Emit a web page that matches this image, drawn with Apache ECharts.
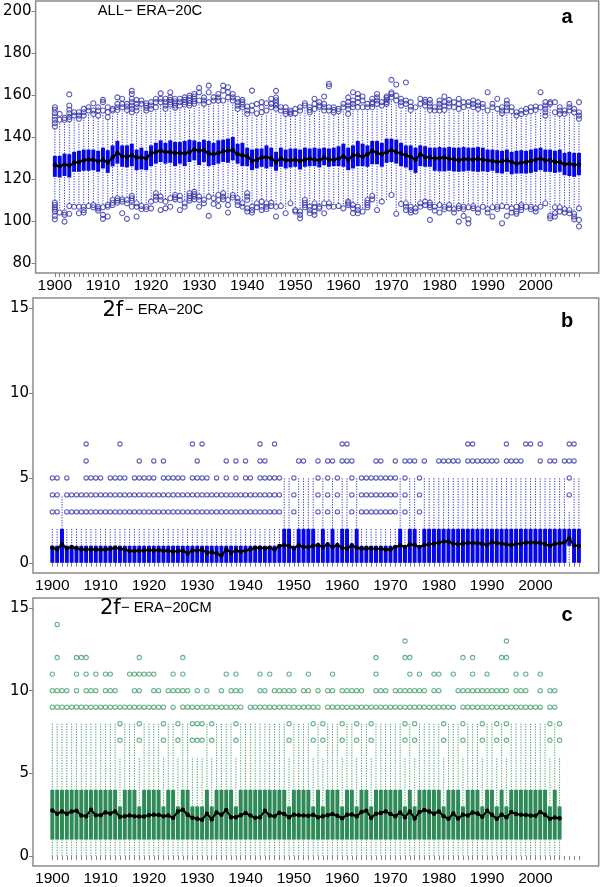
<!DOCTYPE html>
<html><head><meta charset="utf-8">
<script src="https://cdn.jsdelivr.net/npm/echarts@6/dist/echarts.min.js"></script>
<style>html,body{margin:0;padding:0;background:#fff}#c{width:600px;height:887px}</style>
</head><body><div id="c"></div>
<script>
// ---------- axis labels ----------
const xLabelYears = [1900,1910,1920,1930,1940,1950,1960,1970,1980,1990,2000];
const yTicksA = [80,100,120,140,160,180,200];
const yTicksBC = [0,5,10,15];
const yearsAB = []; for (let y = 1900; y <= 2009; y++) yearsAB.push(y);
const yearsC = []; for (let y = 1900; y <= 2005; y++) yearsC.push(y);

// ---------- panel a: ALL- ERA-20C ----------
const aLo = [110,106,105.5,108.5,108.5,108.5,108.5,108.5,109,108.5, 108,109,111.5,112,112,111.5,113,110,108.5,108.5, 110.5,114.5,113,110.5,112,113.5,113,110,114.5,115, 113,111.5,113,112,114,114.5,111.5,113.5,112,110, 114.5,108,110,110.5,110,110,108,108.5,105.5,110, 106.5,106,111.5,108,110,108,110,110,108.5,108.5, 108,110.5,109,108.5,106,111.5,113.5,107,110.5,110, 114,105,109.5,110,108.5,107.5,110,110.5,110,108.5, 109,108.5,109,107,108.5,108.5,108,108.5,107,108.5, 107,108,108.5,108.5,108.5,107.5,108.5,109,108.5,108.5, 107.5,108.5,110,104,108,108,107,107,105,107.5];
const aQ1 = [121.0,120.7,121.4,120.7,123.4,123.4,123.9,123.9,124.2,123.4, 125.0,122.9,126.0,127.3,125.8,125.5,126.1,124.2,124.5,124.2, 126.1,127.3,128.1,127.3,127.7,126.1,127.3,126.1,128.1,128.9, 126.6,128.1,126.1,126.6,127.3,128.1,127.7,128.9,127.3,126.1, 126.1,124.2,125.0,125.8,125.0,125.8,123.9,125.8,125.0,125.5, 125.8,124.5,125.8,126.1,126.1,125.5,126.6,125.8,126.1,126.1, 125.8,124.2,125.0,126.1,126.1,125.8,127.0,127.0,125.8,127.7, 128.1,127.3,126.1,125.5,124.2,122.9,126.1,125.8,125.8,123.9, 123.6,123.6,123.9,123.6,123.4,123.6,123.9,123.6,123.4,123.6, 123.4,123.9,122.9,122.6,123.4,122.2,122.6,122.6,122.6,122.9, 123.4,124.2,123.4,123.4,122.9,123.4,121.8,121.4,121.0,121.8];
const aQ3 = [131.0,131.0,132.1,131.8,132.9,133.4,134.0,134.0,134.0,133.4, 134.9,133.7,136.0,138.1,136.0,136.0,136.8,134.0,134.9,133.4, 136.0,137.2,138.4,137.2,138.4,137.6,137.6,138.1,138.7,138.4, 137.6,138.7,138.1,137.2,138.4,138.7,139.2,140.0,136.8,137.2, 134.9,134.0,134.5,134.5,136.0,134.9,132.9,134.9,134.0,134.5, 134.5,134.0,134.9,134.5,134.9,134.5,134.9,134.5,134.9,135.6, 136.8,134.9,136.0,138.1,136.8,136.0,138.1,138.1,137.2,139.2, 139.2,138.7,137.2,136.0,136.0,134.9,136.0,135.6,134.9,134.9, 135.2,134.9,135.2,134.9,134.9,135.2,134.9,134.9,135.2,134.9, 134.0,134.0,133.7,133.4,134.0,132.9,133.4,133.7,133.4,134.0, 134.5,134.9,134.0,134.0,133.4,134.0,132.4,132.9,132.4,132.4];
const aHi = [144,147,147,147,149,147,149,151,149.5,149, 151,148,151,151.5,152.5,151.5,150.5,151,154,151, 152,152.5,155,152,154,152.5,153.5,154,153.5,154.5, 155.5,154.5,155,156,156,156,157.5,156,152,152.5, 149.5,151,150,150.5,151,152.5,152,151,149.5,149.5, 150,151,153.5,150.5,152,152.5,151,151,150.5,151, 152.5,149.5,152.5,152.5,152.5,152.5,152.5,154.5,153.5,154.5, 157.5,156,153.5,154,151.5,152.5,154,153.5,151.5,151, 151,151.5,153,152.5,152,152.5,153.5,152.5,152,152.5, 151,152.5,152,150,151,151,149,149.5,150.5,151, 151.5,152.5,149,154.5,150.5,149.5,149.5,151,150.5,147.5];
const aMean = [126.6,126.1,126.9,126.4,127.7,128.1,128.9,129.2,129.2,128.4, 129.2,127.8,130.2,132.4,131.0,130.5,131.3,130.2,130.2,129.9, 132.1,132.9,133.4,132.9,132.9,132.4,132.4,132.1,132.9,134.0, 133.4,133.7,132.1,131.8,132.4,133.2,133.4,133.7,131.8,131.3, 130.8,128.6,129.2,130.2,130.5,129.7,128.1,129.7,128.9,128.9, 129.2,128.6,129.2,129.7,129.2,128.9,130.2,129.2,129.2,129.7, 130.8,129.2,131.3,131.3,130.5,131.8,133.4,132.4,131.8,132.9, 133.7,132.9,132.1,131.3,130.5,129.2,131.8,130.5,130.2,129.7, 130.0,130.2,129.7,129.4,128.9,129.4,129.4,129.2,129.6,129.2, 128.9,128.6,128.1,128.4,128.9,128.1,127.3,127.7,128.1,128.6, 129.2,129.7,128.9,128.9,128.1,128.1,127.0,127.3,126.6,127.0];
const aUp = [
[154.2,153.0,151.4,149.8,148.2,146.6,145.0],[151.0,148.2],[149.1,148.2],[160.3,155.0,153.0,151.3,149.6,148.4],[151.8,150.2],
[151.8,150.2,148.7],[153.4,151.8,150.2],[154.2,152.6],[156.1,152.6,151.0],[154.2,152.6,150.2],
[157.7,156.6,152.6],[154.2,151.8,149.5],[153.4,152.6],[158.9,155.8,154.2,152.9],[158.2,155.8,154.2],
[155.8,154.5,152.9],[162.0,160.5,158.2,156.6,155.0,153.4,151.8],[157.7,155.8,154.2,152.6],[157.4,155.8],[156.1,155.0,153.9,152.6],
[156.6,155.0,153.4],[158.2,156.6,154.2],[160.8,158.2,156.6],[158.2,156.6,155.0,153.4],[161.3,158.9,157.7,156.6,155.5],
[158.2,157.0,156.1,155.0,153.9],[158.2,156.6,155.0],[158.9,157.7,156.6,155.5],[159.7,158.6,157.4,156.1,155.0],[160.5,159.3,158.2,157.0,155.8],
[163.4,161.3,157.4],[158.9,157.4,155.8],[164.5,161.3,156.6],[158.9,157.4],[160.5,158.9,157.4],
[164.5,162.1,157.4],[163.7,161.3,158.9],[160.5,158.9,157.4],[158.2,156.6,155.0,153.4],[157.7,156.6,155.5,154.2],
[154.5,152.6,151.0],[162.1,155.0,152.6],[155.8,151.3],[156.6,154.2,151.8],[156.1,152.6],
[158.2,155.8,154.2],[162.0,158.8,157.5,156.2,155.0,153.5],[154.2,152.6],[154.2,152.3,151.0],[152.6,151.8,151.0],
[153.4,151.3],[154.2,152.6],[156.1,155.0],[154.2,152.9,151.8],[158.2,155.8,153.4],
[156.6,155.0,154.2],[159.3,155.8,154.2,152.6],[165.3,164.2,154.2,152.6],[154.2,152.9,151.8],[153.4,152.3],
[155.8,154.2],[158.9,156.6,155.0,153.4,151.0],[161.3,157.4,155.8,154.2],[160.5,158.6,156.6,154.2],[159.3,157.4,154.2],
[155.8,154.2],[158.2,156.6,155.8,154.2],[160.5,158.9,157.4,155.8],[156.6,155.0],[159.3,158.6,157.7,156.6,155.8],
[167.2,161.3,160.5,158.9],[165.0,159.7,157.4],[158.2,156.6,155.0],[166.0,157.4,155.8],[156.6,154.5,152.9],
[154.2],[158.2,155.8],[157.7,156.6,155.0],[157.7,156.1,154.5,152.9],[154.2,152.6],
[157.4,155.8,154.2,152.6],[159.3,156.6,155.0,152.9],[157.7,156.1,154.5],[156.6,154.2],[158.2,155.8,153.4],
[156.6,154.2],[156.6,155.0],[157.4,155.8,154.2],[156.6,155.0,153.4],[155.8,154.2],
[161.3,152.6],[155.8,154.2],[158.2,153.4],[154.2,152.6,151.3],[157.4,155.8,154.2,152.6],
[154.2,152.3],[151.8,150.2],[152.6,151.0],[153.4,151.8],[154.2,152.3],
[154.5,152.9],[161.3,154.2],[156.6,155.0,153.4,151.8,150.2],[156.6,155.8],[156.6,151.8],
[154.2,152.6,151.0],[152.6,151.0],[155.8,154.2,152.6],[153.4,151.8],[156.6,151.8,150.2,148.7]
];
const aDn = [
[108.7,107.6,106.5,105.6,104.5,102.4,100.8],[104.0],[104.0,102.9,99.7],[107.1,103.4],[106.8],
[106.8,103.7],[106.8,105.2,104.0],[107.1],[107.6,106.5],[106.8,105.9,104.9],
[106.5,102.9,101.0],[107.6,106.8,102.1],[110.0,108.7,107.6],[110.8,109.7,108.7],[110.3,109.2,103.7],
[110.0,108.4,101.0],[111.9,110.8,109.7,106.8],[108.4,106.8,102.1],[107.1,105.6],[106.8,105.6],
[109.2,106.0],[113.2,111.6,110.0],[111.6,110.0,105.2],[109.2,106.0],[110.8,106.8],
[112.4,111.3,110.3],[111.9,110.0,105.2],[108.4,106.8],[113.2,111.9,110.8,109.7],[113.9,112.8,111.6,110.3],
[111.6,110.0,106.8],[110.0,108.4],[111.6,102.4],[110.8,108.1],[112.4,110.0,107.1],
[113.2,111.6,110.3],[110.0,107.6,104.0],[112.4,111.2],[110.8,109.2,107.6],[108.4,106.8],
[113.2,111.6,110.0,106.0,104.5],[106.8,105.2,104.0],[108.4,106.5],[109.2,106.8,105.2],[108.4,106.8,105.6],
[108.7,107.1],[106.8,102.1],[107.1],[103.7],[108.4],
[105.2,104.5],[104.5,102.9,101.3],[110.0,108.7,107.6,106.5],[106.8,105.2,103.7],[108.4,106.8,104.5,102.9],
[106.8,106.0],[108.4,103.7],[108.4,106.8],[106.8],[107.1],
[106.0],[109.2,108.4,107.6],[107.6,106.0,103.7],[106.8,105.2,103.7],[104.5],
[110.0,108.7,107.6,106.5],[111.9,110.3],[105.2],[109.2],[],
[112.4],[103.4],[108.1],[108.4,106.8,105.2],[106.8,105.2,104.0],
[106.0,104.5],[108.4,106.8],[109.2,107.6],[108.7,107.6,106.5,100.5],[106.8,104.9],
[107.6,104.0],[106.8,105.6],[107.6,106.0],[105.6,104.0],[107.1,106.0,99.7],
[106.8,105.6,102.4],[106.5,100.8,98.9],[107.1,106.0],[105.6,104.0],[106.8],
[105.6,104.0],[106.5,102.1],[106.8,105.6],[107.1,98.9],[106.8,102.4],
[106.0,104.0],[106.8,104.5,103.4],[107.6,106.5,105.2],[106.8],[106.8,105.6],
[106.0,104.5],[106.8],[108.4],[102.4,101.3],[106.5,103.7,102.1],
[106.5,104.5],[105.6,104.0],[105.2,103.7],[103.4,102.1,100.8],[106.0,100.5,97.4]
];

// ---------- panel b: 2f- ERA-20C ----------
const bLo = [0,0,0,0,0,0,0,0,0,0, 0,0,0,0,0,0,0,0,0,0, 0,0,0,0,0,0,0,0,0,0, 0,0,0,0,0,0,0,0,0,0, 0,0,0,0,0,0,0,0,0,0, 0,0,0,0,0,0,0,0,0,0, 0,0,0,0,0,0,0,0,0,0, 0,0,0,0,0,0,0,0,0,0, 0,0,0,0,0,0,0,0,0,0, 0,0,0,0,0,0,0,0,0,0, 0,0,0,0,0,0,0,0,0,0];
const bQ1 = [0,0,0,0,0,0,0,0,0,0, 0,0,0,0,0,0,0,0,0,0, 0,0,0,0,0,0,0,0,0,0, 0,0,0,0,0,0,0,0,0,0, 0,0,0,0,0,0,0,0,0,0, 0,0,0,0,0,0,0,0,0,0, 0,0,0,0,0,0,0,0,0,0, 0,0,0,0,0,0,0,0,0,0, 0,0,0,0,0,0,0,0,0,0, 0,0,0,0,0,0,0,0,0,0, 0,0,0,0,0,0,0,1,0,0];
const bQ3 = [1,1,2,1,1,1,1,1,1,1, 1,1,1,1,1,1,1,1,1,1, 1,1,1,1,1,1,1,1,1,1, 1,1,1,1,1,1,1,1,1,1, 1,1,1,1,1,1,1,1,2,2, 1,2,2,2,2,1,2,1,2,1, 2,2,1,2,1,1,1,1,1,1, 1,1,2,1,2,2,1,2,2,2, 2,2,2,2,2,2,2,2,2,2, 2,2,2,2,2,2,2,2,2,2, 2,2,2,2,2,2,2,2,2,2];
const bHi = [2,2,4,2,2,2,2,2,2,2, 2,2,2,2,2,2,2,2,2,2, 2,2,2,2,2,2,2,2,2,2, 2,2,2,2,2,2,2,2,2,2, 2,2,2,2,2,2,2,2,5,5, 2,5,5,5,5,2,5,2,5,2, 5,5,2,5,2,2,2,2,2,2, 2,2,5,2,5,5,2,5,5,5, 5,5,5,5,5,5,5,5,5,5, 5,5,5,5,5,5,5,5,5,5, 5,5,5,5,5,5,5,3,5,5];
const bMean = [0.89,0.79,1.09,0.85,0.93,0.85,0.79,0.79,0.79,0.79, 0.77,0.79,0.81,0.89,0.83,0.79,0.69,0.69,0.73,0.73, 0.75,0.73,0.75,0.71,0.73,0.65,0.69,0.73,0.55,0.73, 0.73,0.77,0.59,0.63,0.55,0.43,0.79,0.59,0.73,0.65, 0.73,0.79,0.89,0.89,0.85,0.89,0.79,0.99,1.05,0.99, 0.85,1.03,0.93,0.93,0.99,1.05,0.93,1.09,0.93,1.05, 0.89,0.83,1.03,0.89,0.83,0.85,0.85,0.83,0.83,0.79, 0.79,0.93,1.03,0.93,1.09,1.05,0.93,1.05,1.09,1.13, 1.19,1.25,1.25,1.13,1.09,1.13,1.17,1.17,1.15,1.13, 1.05,1.23,1.17,1.13,1.09,1.03,1.13,1.13,1.19,1.19, 1.19,1.17,1.09,0.99,1.13,1.15,1.19,1.44,1.03,0.99];
const bOut = [
[3,4,5],[3,4,5],[],[3,4,5],[3,4],[3,4],[3,4],[3,4,5,6,7],[3,4,5],[3,4,5],
[3,4,5],[3,4],[3,4,5],[3,4,5],[3,4,5,7],[3,4,5],[3,4],[3,4,5],[3,4,5,6],[3,4,5],
[3,4,5],[3,4,5,6],[3,4],[3,4,5,6],[3,4,5],[3,4,5],[3,4,5],[3,4,5],[3,4],[3,4,5,7],
[3,4,5,6],[3,4,5,7],[3,4,5],[3,4],[3,4,5],[3,4],[3,4,5,6],[3,4],[3,4,5,6],[3,4],
[3,4,5,6],[3,4,5],[3,4],[3,4,5,6,7],[3,4,5,6],[3,4,5],[3,4,5,7],[3,4,5],[],[],
[3,4,5],[6],[6],[],[],[3,4,5,6],[],[3,4,5,6],[6],[3,4,5],
[6,7],[6,7],[3,4,5,6],[],[3,4,5],[3,4,5],[3,4,5],[3,4,5,6],[3,4,5,6],[3,4,5],
[3,4,5],[3,4,5,6],[],[3,4,5,6],[6],[6],[3,4,5],[6],[],[],
[6],[6],[6],[6],[6],[],[6,7],[6,7],[6],[6],
[6],[6],[6],[],[6,7],[6],[6],[6],[7],[7],
[],[6,7],[],[6],[6],[],[6],[4,5,6,7],[6,7],[]
];

// ---------- panel c: 2f- ERA-20CM ----------
const cLo = [0,0,0,0,0,0,0,0,0,0, 0,0,0,0,0,0,0,0,0,0, 0,0,0,0,0,0,0,0,0,0, 0,0,0,0,0,0,0,0,0,0, 0,0,0,0,0,0,0,0,0,0, 0,0,0,0,0,0,0,0,0,0, 0,0,0,0,0,0,0,0,0,0, 0,0,0,0,0,0,0,0,0,0, 0,0,0,0,0,0,0,0,0,0, 0,0,0,0,0,0,0,0,0,0, 0,0,0,0,0,0];
const cQ1 = [1,1,1,1,1,1,1,1,1,1, 1,1,1,1,1,1,1,1,1,1, 1,1,1,1,1,1,1,1,1,1, 1,1,1,1,1,1,1,1,1,1, 1,1,1,1,1,1,1,1,1,1, 1,1,1,1,1,1,1,1,1,1, 1,1,1,1,1,1,1,1,1,1, 1,1,1,1,1,1,1,1,1,1, 1,1,1,1,1,1,1,1,1,1, 1,1,1,1,1,1,1,1,1,1, 1,1,1,1,1,1];
const cQ3 = [4,4,4,4,4,4,4,4,4,4, 4,4,4,4,3,4,4,4,3,4, 4,4,4,3,4,4,3,4,4,3, 3,3,4,3,4,4,4,4,3,4, 4,4,4,4,4,4,4,4,4,3, 4,4,4,4,3,4,3,4,4,4, 3,4,4,3,4,4,3,4,4,4, 4,4,4,3,4,3,4,4,4,4, 4,3,4,4,4,3,4,4,4,3, 4,4,3,4,3,4,4,4,4,4, 4,4,4,3,4,3];
const cHi = [8,8,8,8,8,8,8,8,8,8, 8,8,8,8,6,8,8,8,6,8, 8,8,8,6,8,8,6,8,8,6, 6,6,8,6,8,8,8,8,6,8, 8,8,8,8,8,8,8,8,8,6, 8,8,8,8,6,8,6,8,8,8, 6,8,8,6,8,8,6,8,8,8, 8,8,8,6,8,6,8,8,8,8, 8,6,8,8,8,6,8,8,8,6, 8,8,6,8,6,8,8,8,8,8, 8,8,8,6,8,6];
const cMean = [2.76,2.56,2.70,2.56,2.70,2.74,2.45,2.41,2.80,2.47, 2.47,2.64,2.58,2.70,2.37,2.41,2.45,2.41,2.39,2.39, 2.47,2.50,2.49,2.41,2.45,2.31,2.70,2.80,2.50,2.31, 2.25,2.19,2.56,2.23,2.64,2.50,2.78,2.35,2.35,2.47, 2.60,2.45,2.31,2.35,2.74,2.45,2.41,2.62,2.54,2.35, 2.50,2.47,2.45,2.43,2.50,2.35,2.41,2.47,2.54,2.43, 2.29,2.50,2.52,2.41,2.66,2.74,2.31,2.56,2.60,2.70, 2.54,2.41,2.64,2.35,2.70,2.27,2.66,2.78,2.70,2.56, 2.70,2.41,2.25,2.58,2.27,2.50,2.45,2.64,2.58,2.37, 2.74,2.50,2.25,2.50,2.35,2.66,2.54,2.50,2.49,2.45, 2.43,2.66,2.50,2.25,2.33,2.29];
const cOut = [
[9,10,11],[9,10,12,14],[9,10],[9,10],[9],[9,10,11,12],[9,12],[9,10,11,12],[9,10],[9,10,11],
[9],[9,10,11],[9,10,11],[9,10],[7,8,9],[9],[9,11],[9,10,11],[7,8,9,10,11,12],[9,11],
[9,11],[9,10,11],[9,10],[7,8,9],[10],[9,10,11],[7,8,10],[9,10,11,12],[9,10],[7,8,9],
[7,8,9,10],[7,8,9],[9,10],[7,8,9],[9],[9,10],[9,11],[9,10],[7,8,9,10,11],[9,10],
[],[9],[9],[9,10,11],[9,10],[9,11],[9,10],[9,10],[9,10],[7,8,9,10,11],
[9,10],[9],[9,10],[9,10,11],[7,8,9],[9,10],[7,8],[9,10],[9,10,11],[9],
[7,8,9,10],[9,10],[9,10],[7,8,9,10],[9,10],[9],[7,8,9],[9,10,11,12],[9,10],[9,10],
[9],[9,10],[9,10],[7,8,9,10,12,13],[9,10,11,12],[7,8,9,10],[9,10,11],[9,10],[9],[9,10,11],
[9,10,11],[7,8,9],[9],[9,11],[10],[7,8,9,10,12],[9,10],[9,10,11,12],[9,10],[7,8,9,10],
[9,10,11],[9,10],[7,8,9,10],[9,10,12],[7,8,9,10,12,13],[9],[9,10,11],[9,10],[9,10,11],[9],
[9],[9,10,11],[],[7,8,9,10],[9,10],[7,8]
];

// ---------- helpers ----------
const xTickYears = yearsAB;
function boxData(yrs, lo, q1, q3, hi) { return yrs.map((y, i) => [y, lo[i], q1[i], q3[i], hi[i]]); }
function outData(yrs, lists) { const r = []; yrs.forEach((y, i) => (lists[i] || []).forEach(v => r.push([y, v]))); return r; }
function meanData(yrs, m) { return yrs.map((y, i) => [y, m[i]]); }

function boxSeries(k, data, boxColor, whiskColor) {
  return {
    type: 'custom', xAxisIndex: k, yAxisIndex: k, z: 2, data: data,
    encode: { x: 0, y: [1, 2, 3, 4] },
    renderItem: function (params, api) {
      const x = api.value(0);
      const pLo = api.coord([x, api.value(1)]);
      const pQ1 = api.coord([x, api.value(2)]);
      const pQ3 = api.coord([x, api.value(3)]);
      const pHi = api.coord([x, api.value(4)]);
      const w = api.size([0.82, 0])[0];
      const ws = { stroke: whiskColor, lineWidth: 1, lineDash: [1.2, 1.4] };
      const ch = [];
      if (pLo[1] - pQ1[1] > 0.5) ch.push({ type: 'line', shape: { x1: pLo[0], y1: pLo[1], x2: pQ1[0], y2: pQ1[1] }, style: ws });
      if (pQ3[1] - pHi[1] > 0.5) ch.push({ type: 'line', shape: { x1: pQ3[0], y1: pQ3[1], x2: pHi[0], y2: pHi[1] }, style: ws });
      ch.push({ type: 'rect', shape: { x: pQ3[0] - w / 2, y: pQ3[1], width: w, height: pQ1[1] - pQ3[1] }, style: { fill: boxColor } });
      return { type: 'group', children: ch };
    }
  };
}
function outSeries(k, data, color, size) {
  return { type: 'scatter', xAxisIndex: k, yAxisIndex: k, z: 3, data: data, symbol: 'circle', symbolSize: size,
    itemStyle: { color: 'rgba(0,0,0,0)', borderColor: color, borderWidth: 1.1 }, silent: true };
}
function meanSeries(k, data) {
  return { type: 'line', xAxisIndex: k, yAxisIndex: k, z: 4, data: data, symbol: 'circle', symbolSize: 4.5, showAllSymbol: true,
    lineStyle: { color: '#000', width: 2 }, itemStyle: { color: '#000' }, silent: true };
}

const gridTops = [1, 298, 598], gridHeights = [272, 275, 273];
const grids = gridTops.map((t, k) => ({ left: 33, right: 1.3, top: t, height: gridHeights[k], show: true,
  borderColor: '#8a8a8a', borderWidth: 1.5, backgroundColor: 'transparent', containLabel: false }));
const xAxes = [0, 1, 2].map(k => ({
  type: 'value', gridIndex: k, min: 1896, max: 2013.1,
  axisLine: { show: false }, splitLine: { show: false },
  axisTick: { show: true, length: 4, customValues: xTickYears, lineStyle: { color: '#808080', width: 1 } },
  axisLabel: { customValues: xLabelYears, margin: 5, color: '#000', fontSize: 15.5,
    fontFamily: "'Liberation Sans Narrow','Arial Narrow','Liberation Sans',sans-serif", formatter: v => String(Math.round(v)) }
}));
const yRanges = [[75.2, 204.8, yTicksA], [-0.6, 15.6, yTicksBC], [-0.6, 15.6, yTicksBC]];
const yAxes = yRanges.map((r, k) => ({
  type: 'value', gridIndex: k, min: r[0], max: r[1],
  axisLine: { show: false }, splitLine: { show: false },
  axisTick: { show: true, length: 4, customValues: r[2], lineStyle: { color: '#808080', width: 1 } },
  axisLabel: { customValues: r[2], margin: 4, color: '#000', fontSize: 15, fontFamily: "'DejaVu Sans',sans-serif",
    formatter: v => String(Math.round(v)) }
}));

const blue = '#0505ee', blueW = '#3030cc', blueO = '#3535a8';
const green = '#2e8b57', greenW = '#3a9a66', greenO = '#3f9f6b';

const series = [
  boxSeries(0, boxData(yearsAB, aLo, aQ1, aQ3, aHi), blue, blueW),
  outSeries(0, outData(yearsAB, aUp).concat(outData(yearsAB, aDn)), blueO, 5),
  meanSeries(0, meanData(yearsAB, aMean)),
  boxSeries(1, boxData(yearsAB, bLo, bQ1, bQ3, bHi), blue, blueW),
  outSeries(1, outData(yearsAB, bOut), blueO, 4.3),
  meanSeries(1, meanData(yearsAB, bMean)),
  boxSeries(2, boxData(yearsC, cLo, cQ1, cQ3, cHi), green, greenW),
  outSeries(2, outData(yearsC, cOut), greenO, 4.3),
  meanSeries(2, meanData(yearsC, cMean))
];

const tf = "'Liberation Sans',Arial,sans-serif";
const graphic = [
  { type: 'text', style: { x: 97.7, y: 11, text: 'ALL− ERA−20C', font: '14.7px ' + tf, fill: '#000', verticalAlign: 'middle' } },
  { type: 'text', style: { x: 102.5, y: 310.5, text: '2f', font: "21px 'DejaVu Sans',sans-serif", fill: '#000', verticalAlign: 'middle' } },
  { type: 'text', style: { x: 125, y: 309.7, text: '− ERA−20C', font: '14.7px ' + tf, fill: '#000', verticalAlign: 'middle' } },
  { type: 'text', style: { x: 100, y: 608.3, text: '2f', font: "21px 'DejaVu Sans',sans-serif", fill: '#000', verticalAlign: 'middle' } },
  { type: 'text', style: { x: 121, y: 608.3, text: '− ERA−20CM', font: '14.7px ' + tf, fill: '#000', verticalAlign: 'middle' } },
  { type: 'text', style: { x: 567, y: 17, text: 'a', font: 'bold 20px ' + tf, fill: '#000', align: 'center', verticalAlign: 'middle' } },
  { type: 'text', style: { x: 567, y: 321, text: 'b', font: 'bold 20px ' + tf, fill: '#000', align: 'center', verticalAlign: 'middle' } },
  { type: 'text', style: { x: 567, y: 615, text: 'c', font: 'bold 20px ' + tf, fill: '#000', align: 'center', verticalAlign: 'middle' } }
];
const lens = [aLo, aQ1, aQ3, aHi, aMean, aUp, aDn, bLo, bQ1, bQ3, bHi, bMean, bOut].map(a => a.length);
const lensC = [cLo, cQ1, cQ3, cHi, cMean, cOut].map(a => a.length);
if (lens.some(l => l !== 110) || lensC.some(l => l !== 106)) {
  graphic.push({ type: 'text', style: { x: 250, y: 440, text: 'LEN ' + lens.join(',') + ' / ' + lensC.join(','), font: '12px sans-serif', fill: 'red' } });
}

const chart = echarts.init(document.getElementById('c'), null, { renderer: 'canvas' });
chart.setOption({ animation: false, backgroundColor: '#fff', grid: grids, xAxis: xAxes, yAxis: yAxes, series: series, graphic: graphic });
</script></body></html>
